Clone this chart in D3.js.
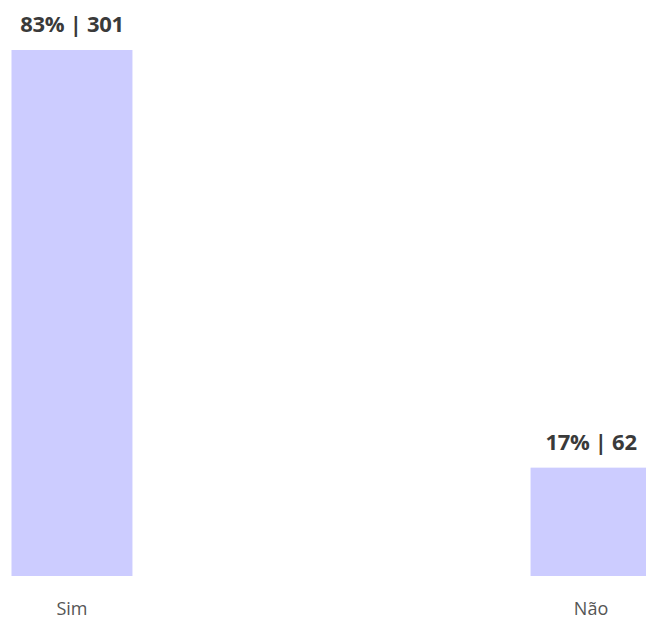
<!DOCTYPE html>
<html>
<head>
<meta charset="utf-8">
<script src="https://cdn.jsdelivr.net/npm/d3@7"></script>
<style>
  html, body { margin: 0; padding: 0; background: #fff; overflow: hidden; }
  svg { display: block; }
</style>
</head>
<body>
<div id="chart"></div>
<script>
const categories = ["Sim", "Não"];
const counts = [301, 62];
const percents = [83, 17];

const W = 646, H = 620;
const svg = d3.select("#chart").append("svg").attr("width", W).attr("height", H);

const x = d3.scaleBand().domain(categories).range([11.5, 651.5]).paddingInner(0.767).paddingOuter(0);
const y = d3.scaleLinear().domain([0, d3.max(counts)]).range([576, 50]);

const data = categories.map((c, i) => ({ c, v: counts[i], p: percents[i] }));

svg.selectAll("rect.bar").data(data).join("rect")
  .attr("class", "bar")
  .attr("x", d => x(d.c))
  .attr("y", d => y(d.v))
  .attr("width", x.bandwidth())
  .attr("height", d => y(0) - y(d.v))
  .attr("fill", "#ccccff");

svg.selectAll("text.val").data(data).join("text")
  .attr("class", "val")
  .attr("x", d => x(d.c) + x.bandwidth() / 2)
  .attr("y", d => y(d.v) - 18)
  .attr("text-anchor", "middle")
  .attr("font-family", "'Open Sans', sans-serif")
  .attr("font-weight", 700)
  .attr("font-size", 22)
  .attr("letter-spacing", -0.3)
  .attr("fill", "#3a3a3a")
  .text(d => `${d.p}% | ${d.v}`);

const xAxis = svg.append("g").attr("transform", `translate(0,${y(0)})`)
  .call(d3.axisBottom(x).tickSize(0).tickPadding(26));
xAxis.select(".domain").remove();
xAxis.selectAll("text")
  .attr("font-family", "'Open Sans', sans-serif")
  .attr("font-size", 18)
  .attr("fill", "#555");
</script>
</body>
</html>
